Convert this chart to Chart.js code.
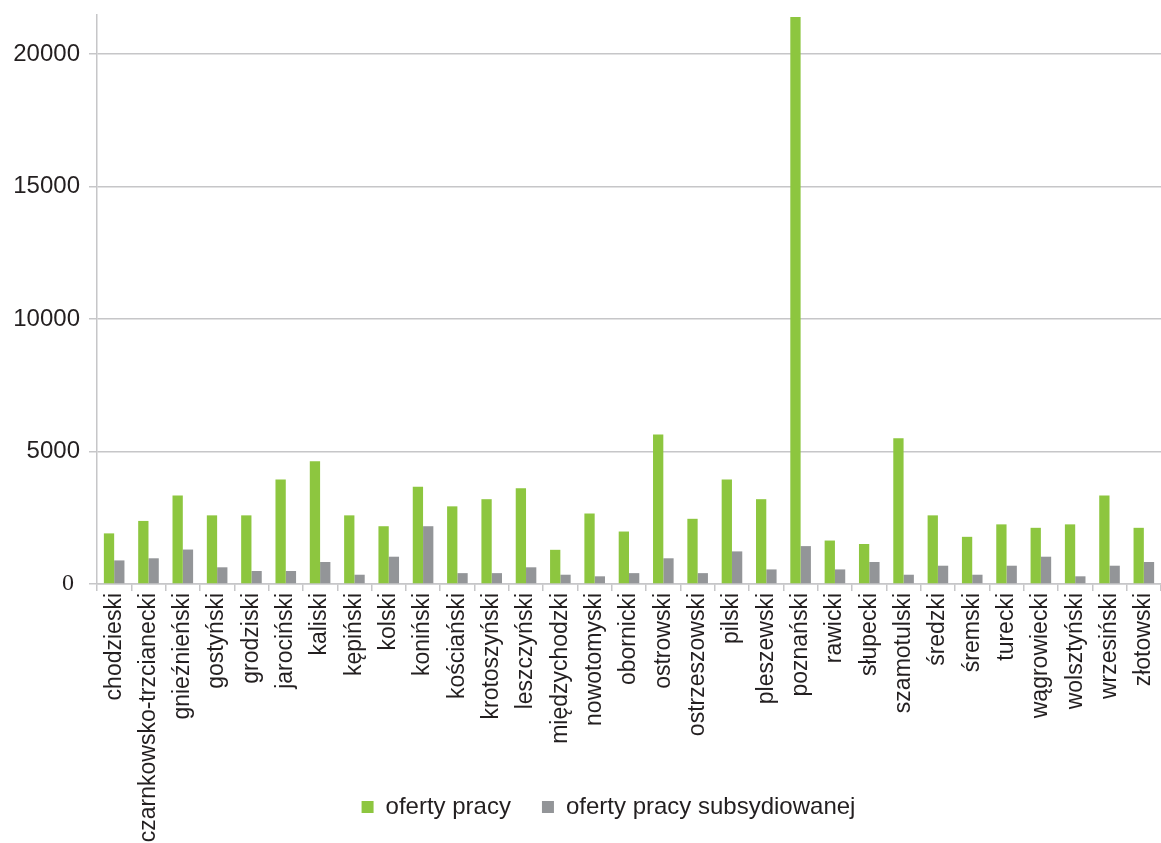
<!DOCTYPE html>
<html>
<head>
<meta charset="utf-8">
<script src="https://cdn.jsdelivr.net/npm/chart.js@4.4.1/dist/chart.umd.min.js"></script>
<style>
  html, body { margin: 0; padding: 0; background: #fff; }
  #wrap { width: 1161px; height: 843px; position: relative; }
</style>
</head>
<body>
<div id="wrap"><canvas id="wykres"></canvas></div>
<script>
// powiaty
const powiaty = ["chodzieski","czarnkowsko-trzcianecki","gnieźnieński","gostyński","grodziski",
  "jarociński","kaliski","kępiński","kolski","koniński","kościański","krotoszyński","leszczyński",
  "międzychodzki","nowotomyski","obornicki","ostrowski","ostrzeszowski","pilski","pleszewski",
  "poznański","rawicki","słupecki","szamotulski","średzki","śremski","turecki","wągrowiecki",
  "wolsztyński","wrzesiński","złotowski"];

const ofertyPracy = [1910, 2380, 3340, 2590, 2590, 3940, 4630, 2590, 2180, 3670,
  2930, 3200, 3610, 1290, 2660, 1980, 5640, 2460, 3940, 3200,
  21390, 1640, 1510, 5500, 2590, 1780, 2250, 2120, 2250, 3340, 2120];

const ofertySubsyd = [890, 970, 1300, 630, 490, 490, 830, 350, 1030, 2180,
  410, 410, 630, 350, 290, 410, 970, 410, 1230, 550,
  1430, 550, 830, 350, 690, 350, 690, 1030, 290, 690, 830];

const yTicki = [0, 5000, 10000, 15000, 20000];

const kolorTekstu = "#231f20";
const kolorSiatki = "#c6c6c8";
const bezszeryfowa = "'Liberation Sans', Arial, sans-serif";
const szeryfowa = "'Liberation Serif', 'DejaVu Serif', serif";

// podpisy osi X nie moga byc przyciete przez legende, a legenda lekko w prawo
const poprawkaUkladu = {
  id: "poprawkaUkladu",
  afterLayout(chart) {
    chart.scales.x.bottom = chart.height;
    chart.legend.left += 28;
    chart.legend.right += 28;
  }
};

const ctx = document.getElementById("wykres").getContext("2d");
new Chart(ctx, {
  type: "bar",
  data: {
    labels: powiaty,
    datasets: [
      { label: "oferty pracy", data: ofertyPracy, backgroundColor: "#8dc63f",
        categoryPercentage: 0.6, barPercentage: 1.0 },
      { label: "oferty pracy subsydiowanej", data: ofertySubsyd, backgroundColor: "#939598",
        categoryPercentage: 0.6, barPercentage: 1.0 }
    ]
  },
  plugins: [poprawkaUkladu],
  options: {
    responsive: true,
    maintainAspectRatio: false,
    animation: false,
    layout: { padding: { top: 15, bottom: 14, left: 0, right: 0 } },
    plugins: {
      tooltip: { enabled: false },
      legend: {
        position: "bottom",
        labels: {
          color: kolorTekstu,
          boxWidth: 12,
          boxHeight: 12,
          padding: 31,
          font: { family: bezszeryfowa, size: 24 }
        }
      }
    },
    scales: {
      x: {
        grid: { display: true, drawOnChartArea: false, color: kolorSiatki, lineWidth: 1.5, tickLength: 7, offset: true },
        border: { display: true, color: kolorSiatki, width: 1.5 },
        ticks: {
          autoSkip: false,
          minRotation: 90,
          maxRotation: 90,
          padding: 2,
          color: kolorTekstu,
          font: { family: bezszeryfowa, size: 23 }
        },
        afterFit: s => { s.height = 180; s.paddingLeft = 0; s.paddingRight = 0; }
      },
      y: {
        min: 0,
        max: 21470,
        afterBuildTicks: s => { s.ticks = yTicki.map(v => ({ value: v })); },
        afterFit: s => { s.width = 97; s.paddingTop = 0; s.paddingBottom = 0; },
        grid: { color: kolorSiatki, lineWidth: 1.5, tickLength: 8 },
        border: { display: true, color: kolorSiatki, width: 1.5 },
        ticks: {
          padding: 9,
          color: kolorTekstu,
          callback: v => v === 0 ? "0 " : String(v),
          font: c => ({ family: c.index === 0 ? szeryfowa : bezszeryfowa, size: 24 })
        }
      }
    }
  }
});
</script>
</body>
</html>
